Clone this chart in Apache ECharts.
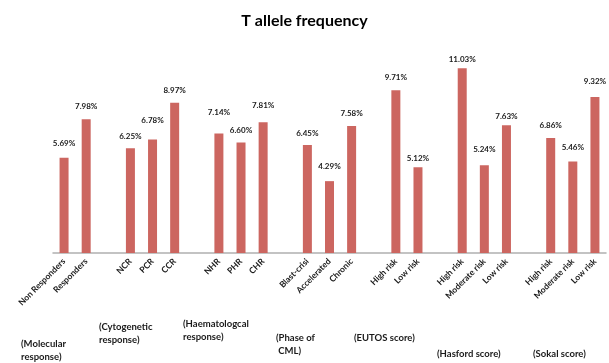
<!DOCTYPE html>
<html>
<head>
<meta charset="utf-8">
<script src="https://cdn.jsdelivr.net/npm/echarts@6/dist/echarts.min.js"></script>
<style>
  html, body { margin: 0; padding: 0; background: #fff; }
  #chart { width: 609px; height: 363px; }
</style>
</head>
<body>
<div id="chart"></div>
<script>
// Categories along the x axis; empty names leave a gap between groups
const categories = [
  'Non Responders', 'Responders', '',
  'NCR', 'PCR', 'CCR', '',
  'NHR', 'PHR', 'CHR', '',
  'Blast-crisi', 'Accelerated', 'Chronic', '',
  'High risk', 'Low risk', '',
  'High risk', 'Moderate risk', 'Low risk', '',
  'High risk', 'Moderate risk', 'Low risk'
];

// T allele frequency (%) for each category
const frequency = [
  5.69, 7.98, null,
  6.25, 6.78, 8.97, null,
  7.14, 6.60, 7.81, null,
  6.45, 4.29, 7.58, null,
  9.71, 5.12, null,
  11.03, 5.24, 7.63, null,
  6.86, 5.46, 9.32
];

// Group captions shown under the axis
const groupNames = [
  '(Molecular\nresponse)',
  '(Cytogenetic\nresponse)',
  '(Haematologcal\nresponse)',
  '(Phase of\n CML)',
  '(EUTOS score)',
  '(Hasford score)',
  '(Sokal score)'
];

// Layout: caption anchors and the gap between each bar and its value label
const FONT = 'Lato, "Liberation Sans", sans-serif';
const captionPos = [
  [21, 338], [99, 321], [183, 318], [276, 332], [354, 332], [437, 348], [533, 348]
];
const labelGaps = [10, 9, 8, 15, 8, 16.5, 8.5, 13, 8, 11, 8.5, 9, 5, 5, 12, 5, 9, 10, 11.5];

let barIndex = 0;
const barData = frequency.map(v => {
  if (v === null) return null;
  const gap = labelGaps[barIndex++];
  return { value: v, label: { distance: gap } };
});

const chart = echarts.init(document.getElementById('chart'), null, { renderer: 'canvas' });

chart.setOption({
  animation: false,
  backgroundColor: '#ffffff',
  title: {
    text: 'T allele frequency',
    left: 'center',
    top: 8,
    textStyle: { fontFamily: FONT, fontWeight: 'bold', fontSize: 16, color: '#000' }
  },
  grid: { left: 53, right: 3, top: 52, bottom: 110 },
  xAxis: {
    type: 'category',
    data: categories,
    axisLine: { lineStyle: { color: '#b0b0b0', width: 1.5 } },
    axisTick: { show: false },
    axisLabel: {
      interval: 0,
      rotate: 45,
      margin: 7,
      fontFamily: FONT,
      fontWeight: 'bold',
      fontSize: 8.5,
      color: '#1a1a1a'
    }
  },
  yAxis: {
    type: 'value',
    min: 0,
    max: 12,
    show: false,
    splitLine: { show: false }
  },
  series: [{
    type: 'bar',
    data: barData,
    barWidth: 9,
    itemStyle: { color: '#cc6660' },
    label: {
      show: true,
      position: 'top',
      formatter: p => p.value.toFixed(2) + '%',
      fontFamily: FONT,
      fontWeight: 'bold',
      fontSize: 8,
      color: '#1a1a1a'
    }
  }],
  graphic: groupNames.map((name, i) => ({
    type: 'text',
    left: captionPos[i][0],
    top: captionPos[i][1],
    style: {
      text: name,
      font: 'bold 9.5px ' + FONT,
      fill: '#1a1a1a',
      lineHeight: 12.5
    }
  }))
});
</script>
</body>
</html>
